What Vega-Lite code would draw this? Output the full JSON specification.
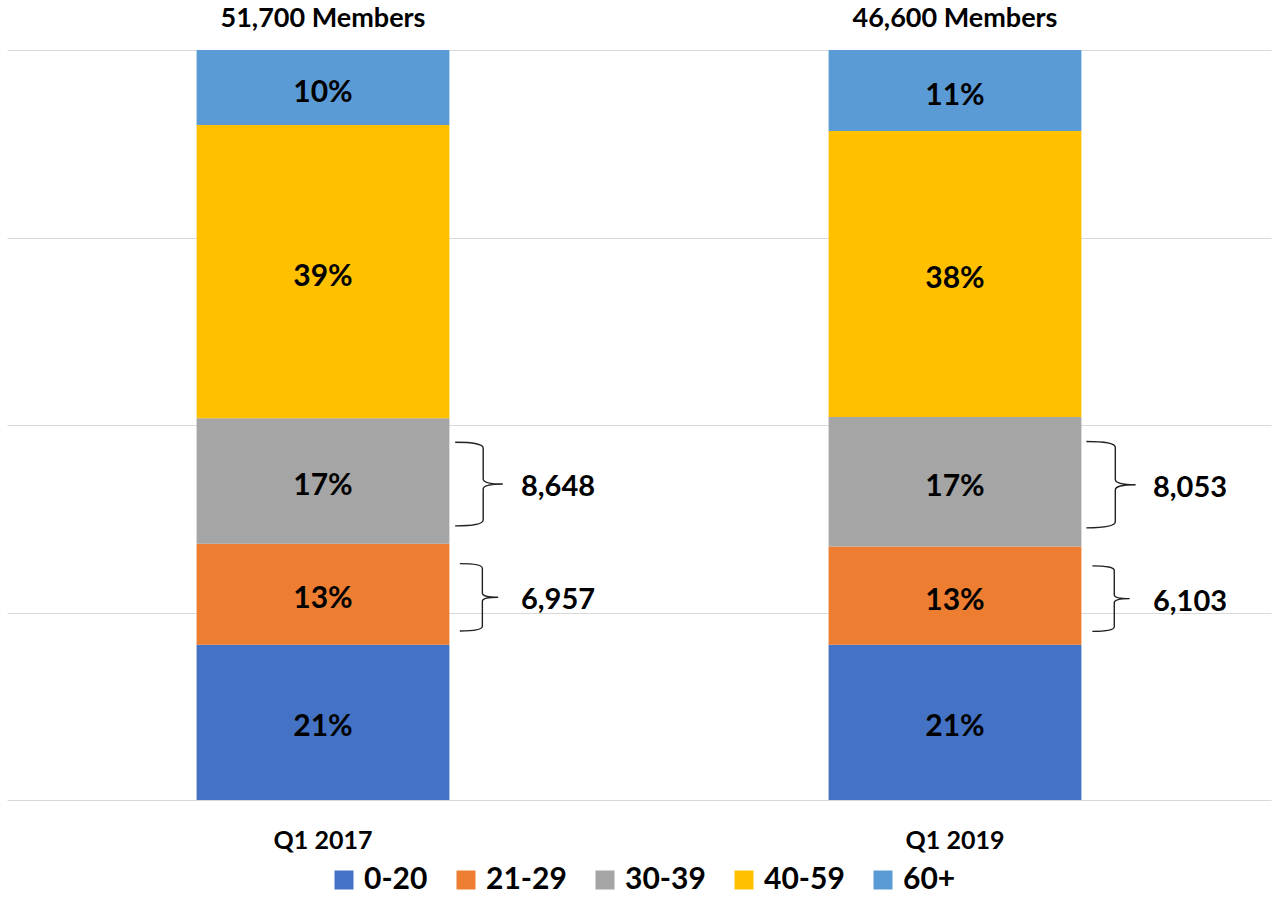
{
  "$schema": "https://vega.github.io/schema/vega-lite/v6.json",
  "width": 1264,
  "height": 750,
  "autosize": {"type": "none"},
  "padding": {"left": 7, "top": 50, "right": 2, "bottom": 97},
  "background": "white",
  "config": {
    "view": {"stroke": null},
    "font": "Lato",
    "text": {"font": "Lato", "fontWeight": "bold", "color": "black"}
  },
  "datasets": {
    "seg": [
      {"quarter": "Q1 2017", "group": "0-20", "pct": 20.7},
      {"quarter": "Q1 2017", "group": "21-29", "pct": 13.46, "members": 6957},
      {"quarter": "Q1 2017", "group": "30-39", "pct": 16.73, "members": 8648},
      {"quarter": "Q1 2017", "group": "40-59", "pct": 39.11},
      {"quarter": "Q1 2017", "group": "60+", "pct": 10.0},
      {"quarter": "Q1 2019", "group": "0-20", "pct": 20.7},
      {"quarter": "Q1 2019", "group": "21-29", "pct": 13.1, "members": 6103},
      {"quarter": "Q1 2019", "group": "30-39", "pct": 17.28, "members": 8053},
      {"quarter": "Q1 2019", "group": "40-59", "pct": 38.12},
      {"quarter": "Q1 2019", "group": "60+", "pct": 10.8}
    ],
    "tot": [
      {"quarter": "Q1 2017", "total": 51700},
      {"quarter": "Q1 2019", "total": 46600}
    ]
  },
  "encoding": {
    "x": {
      "field": "quarter",
      "type": "nominal",
      "scale": {"paddingInner": 0.6, "paddingOuter": 0.3},
      "axis": {
        "title": null,
        "labelAngle": 0,
        "domain": false,
        "ticks": false,
        "labelFont": "Lato",
        "labelFontWeight": "bold",
        "labelFontSize": 25,
        "labelColor": "black",
        "labelPadding": 28
      }
    }
  },
  "layer": [
    {
      "data": {"name": "seg"},
      "transform": [
        {"stack": "pct", "groupby": ["quarter"], "sort": [{"field": "group", "order": "ascending"}], "as": ["y0", "y1"]}
      ],
      "mark": {"type": "bar"},
      "encoding": {
        "y": {
          "field": "y0",
          "type": "quantitative",
          "scale": {"domain": [0, 100], "nice": false},
          "axis": {
            "title": null,
            "labels": false,
            "ticks": false,
            "domain": false,
            "grid": true,
            "gridColor": "#d9d9d9",
            "gridWidth": 1,
            "values": [0, 25, 50, 75, 100]
          }
        },
        "y2": {"field": "y1"},
        "color": {
          "field": "group",
          "type": "nominal",
          "scale": {
            "domain": ["0-20", "21-29", "30-39", "40-59", "60+"],
            "range": ["#4472C4", "#ED7D31", "#A5A5A5", "#FFC000", "#5B9BD5"]
          },
          "legend": {
            "title": null,
            "orient": "none",
            "direction": "horizontal",
            "legendX": 322,
            "legendY": 815,
            "symbolType": "square",
            "symbolSize": 361,
            "symbolStrokeWidth": 0,
            "symbolOpacity": 1,
            "labelFont": "Lato",
            "labelFontWeight": "bold",
            "labelFontSize": 30,
            "labelColor": "black",
            "labelOffset": 5,
            "columnPadding": 23
          }
        }
      }
    },
    {
      "data": {"name": "seg"},
      "transform": [
        {"stack": "pct", "groupby": ["quarter"], "sort": [{"field": "group", "order": "ascending"}], "as": ["y0", "y1"]},
        {"calculate": "(datum.y0 + datum.y1) / 2", "as": "mid"},
        {"calculate": "format(datum.pct / 100, '.0%')", "as": "label"}
      ],
      "mark": {"type": "text", "fontSize": 30, "baseline": "middle", "align": "center", "dy": 5},
      "encoding": {
        "y": {"field": "mid", "type": "quantitative"},
        "text": {"field": "label"}
      }
    },
    {
      "data": {"name": "seg"},
      "transform": [
        {"stack": "pct", "groupby": ["quarter"], "sort": [{"field": "group", "order": "ascending"}], "as": ["y0", "y1"]},
        {"calculate": "(datum.y0 + datum.y1) / 2", "as": "mid"},
        {"filter": "isValid(datum.members)"}
      ],
      "mark": {
        "type": "point",
        "shape": "M -0.57 -1 Q 0.1 -1 0.1 -0.86 L 0.1 -0.12 Q 0.1 0 0.57 0 Q 0.1 0 0.1 0.12 L 0.1 0.86 Q 0.1 1 -0.57 1",
        "filled": false,
        "stroke": "#222222",
        "strokeWidth": 1.4,
        "opacity": 1,
        "xOffset": 156,
        "yOffset": 3
      },
      "encoding": {
        "y": {"field": "mid", "type": "quantitative"},
        "size": {
          "field": "pct",
          "type": "quantitative",
          "scale": {"type": "pow", "exponent": 2, "domain": [0, 20], "range": [0, 10000]},
          "legend": null
        }
      }
    },
    {
      "data": {"name": "seg"},
      "transform": [
        {"stack": "pct", "groupby": ["quarter"], "sort": [{"field": "group", "order": "ascending"}], "as": ["y0", "y1"]},
        {"calculate": "(datum.y0 + datum.y1) / 2", "as": "mid"},
        {"filter": "isValid(datum.members)"}
      ],
      "mark": {"type": "text", "fontSize": 29, "baseline": "middle", "align": "left", "dx": 198, "dy": 6},
      "encoding": {
        "y": {"field": "mid", "type": "quantitative"},
        "text": {"field": "members", "type": "quantitative", "format": ","}
      }
    },
    {
      "data": {"name": "tot"},
      "transform": [
        {"calculate": "format(datum.total, ',') + ' Members'", "as": "label"}
      ],
      "mark": {"type": "text", "fontSize": 27, "baseline": "alphabetic", "align": "center", "dy": -23},
      "encoding": {
        "y": {"datum": 100},
        "text": {"field": "label"}
      }
    }
  ]
}
